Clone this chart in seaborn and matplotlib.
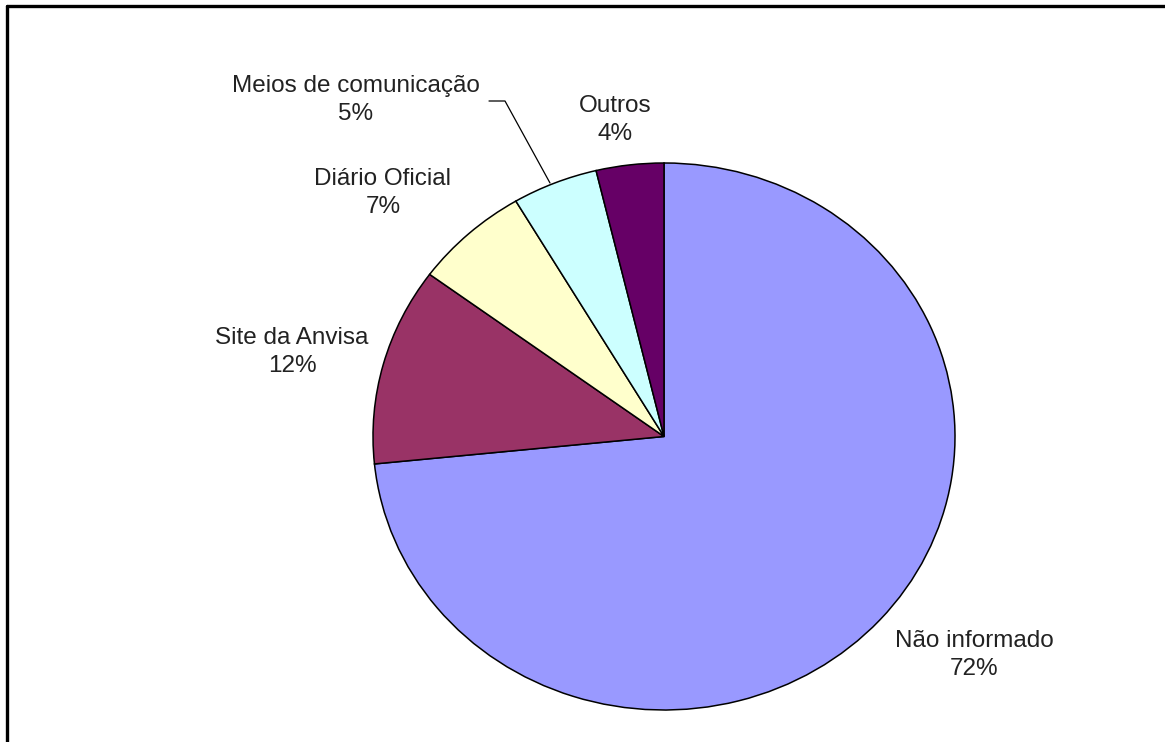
import matplotlib
matplotlib.use("Agg")
import matplotlib.pyplot as plt
import seaborn as sns
from matplotlib.lines import Line2D

categories = ["Não informado", "Site da Anvisa", "Diário Oficial", "Meios de comunicação", "Outros"]
shares = [73.4, 11.7, 6.4, 4.75, 3.75]          # wedge sizes as drawn
pct_labels = [72, 12, 7, 5, 4]                  # percentages printed on the chart
colors = ["#9999FF", "#993366", "#FFFFCC", "#CCFFFF", "#660066"]

sns.set_theme(style="white")
plt.rcParams["font.family"] = ["Liberation Sans", "DejaVu Sans"]

W, H = 1165, 742
fig = plt.figure(figsize=(W / 100, H / 100), dpi=100)
fig.patch.set_facecolor("white")

cx, cy, rx, ry = 664, 436.5, 291, 273.5
ax = fig.add_axes([(cx - rx) / W, (H - cy - ry) / H, 2 * rx / W, 2 * ry / H])
ax.pie(shares, colors=colors, startangle=90, counterclock=False, radius=1,
       wedgeprops=dict(edgecolor="black", linewidth=1.1))
ax.set_aspect("auto")
ax.set_xlim(-1, 1)
ax.set_ylim(-1, 1)
ax.axis("off")

def to_data(px, py):
    return (px - cx) / rx, (cy - py) / ry

label_pos = [(974, 655), (292, 352), (383, 193), (356, 100), (615, 120)]
for cat, v, (px, py) in zip(categories, pct_labels, label_pos):
    x, y = to_data(px, py)
    ax.text(x, y, f"{cat}\n{v}%", ha="center", va="center", fontsize=17.5,
            color="#222222", linespacing=1.38, clip_on=False)

# leader line for "Meios de comunicação"
lx, ly = zip(*[to_data(489, 101), to_data(505, 101), to_data(550, 183)])
ax.add_line(Line2D(lx, ly, color="black", linewidth=0.9, clip_on=False))

# figure border (top and left)
fig.add_artist(Line2D([7 / W, 1], [1 - 6 / H, 1 - 6 / H], transform=fig.transFigure,
                      color="black", linewidth=2.4))
fig.add_artist(Line2D([7 / W, 7 / W], [0, 1 - 6 / H], transform=fig.transFigure,
                      color="black", linewidth=2.4))

fig.savefig("out.png", dpi=100, facecolor="white")
